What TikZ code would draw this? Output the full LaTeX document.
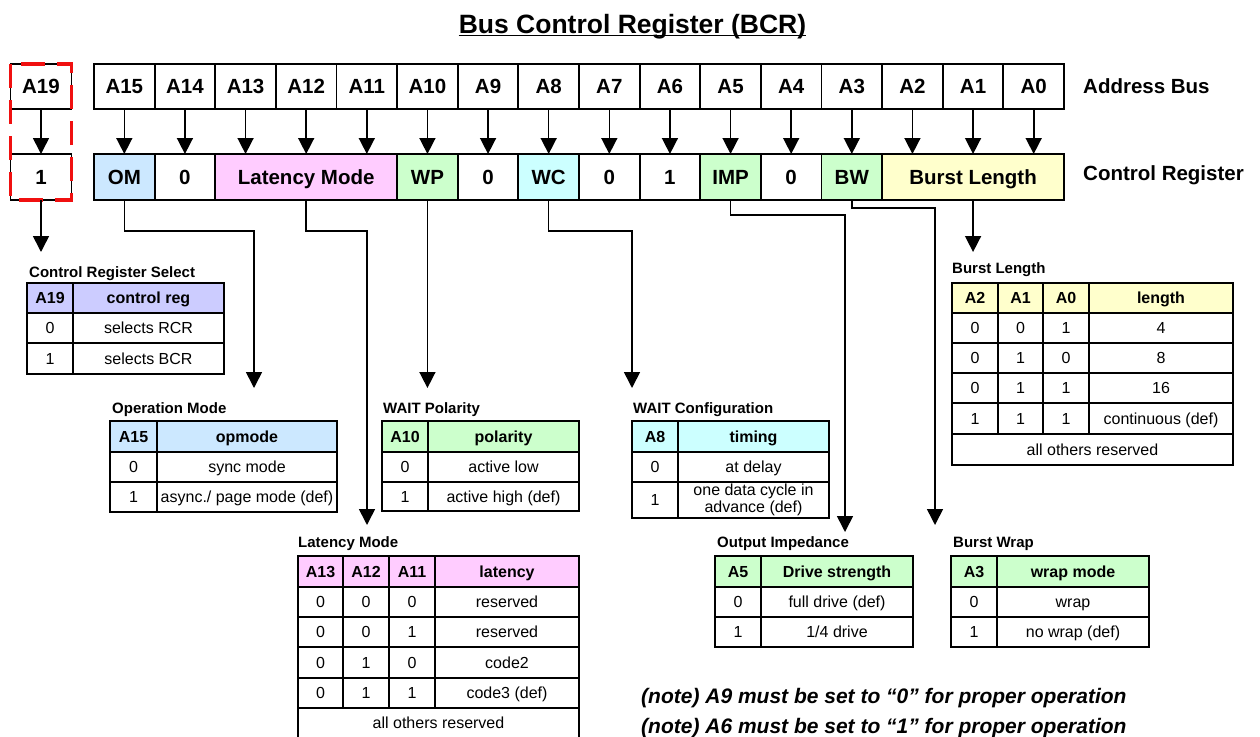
\documentclass[tikz,border=0pt]{standalone}
\usepackage{fontspec}
\setmainfont{Liberation Sans}
\usetikzlibrary{arrows.meta}
\definecolor{cOM}{HTML}{CCE8FF}
\definecolor{cLat}{HTML}{FFCCFF}
\definecolor{cGrn}{HTML}{CCFFCC}
\definecolor{cCyan}{HTML}{CCFFFF}
\definecolor{cYel}{HTML}{FFFFCC}
\definecolor{cCRS}{HTML}{CCCCFF}
\definecolor{cRed}{HTML}{F01010}
\tikzset{
 cell/.style={draw=black, line width=1.8pt, inner sep=0pt, outer sep=0pt, text=black},
 regtext/.style={font=\fontsize{20.5}{24}\selectfont\bfseries, text height=14.7pt, text depth=0pt},
 hdr/.style={font=\fontsize{16}{19}\selectfont\bfseries, text height=11.5pt, text depth=0pt},
 body/.style={font=\fontsize{16}{17.5}\selectfont, text height=11.5pt, text depth=0pt},
 bodyml/.style={font=\fontsize{16}{17.5}\selectfont, align=center},
 ttl/.style={font=\fontsize{15}{18}\selectfont\bfseries, anchor=base west, inner sep=0pt},
 lbl/.style={font=\fontsize{20.5}{24}\selectfont\bfseries, anchor=base west, inner sep=0pt},
 arr/.style={line width=1.6pt, -{Triangle[width=16pt,length=16pt]}},
 note/.style={font=\fontsize{21}{25}\selectfont\bfseries\itshape, anchor=base west, inner sep=0pt},
}
\newcommand\cellnode[8][]{%
 \pgfmathsetmacro\cellW{#5-#3}\pgfmathsetmacro\cellH{#6-#4}%
 \node[cell,#1,fill=#7,minimum width=\cellW pt,minimum height=\cellH pt] (#2) at ({(#3+#5)/2},{(#4+#6)/2}) {#8};}
\begin{document}
\begin{tikzpicture}[x=1pt,y=-1pt]
\useasboundingbox[fill=white] (0,0) rectangle (1260,736);
% title
\node[anchor=base, inner sep=0pt, font=\fontsize{26.5}{30}\selectfont\bfseries] (title) at (632.5,33) {Bus Control Register (BCR)};
\draw[line width=1.8pt] ([yshift=-2.5pt]title.base west) -- ([yshift=-2.5pt]title.base east);
% address bus
\foreach \i in {0,...,15}{
  \pgfmathsetmacro\xa{94+\i*60.625}
  \pgfmathsetmacro\xb{94+(\i+1)*60.625}
  \pgfmathtruncatemacro\n{15-\i}
  \cellnode[regtext]{a\n}{\xa}{64}{\xb}{109}{white}{A\n}
}
% control register
\cellnode[regtext]{om}{94}{154}{154.625}{200}{cOM}{OM}
\cellnode[regtext]{z14}{154.625}{154}{215.25}{200}{white}{0}
\cellnode[regtext]{lat}{215.25}{154}{397.125}{200}{cLat}{Latency Mode}
\cellnode[regtext]{wp}{397.125}{154}{457.75}{200}{cGrn}{WP}
\cellnode[regtext]{z9}{457.75}{154}{518.375}{200}{white}{0}
\cellnode[regtext]{wc}{518.375}{154}{579}{200}{cCyan}{WC}
\cellnode[regtext]{z7}{579}{154}{639.625}{200}{white}{0}
\cellnode[regtext]{o6}{639.625}{154}{700.25}{200}{white}{1}
\cellnode[regtext]{imp}{700.25}{154}{760.875}{200}{cGrn}{IMP}
\cellnode[regtext]{z4}{760.875}{154}{821.5}{200}{white}{0}
\cellnode[regtext]{bw}{821.5}{154}{882.125}{200}{cGrn}{BW}
\cellnode[regtext]{bl}{882.125}{154}{1064}{200}{cYel}{Burst Length}
\foreach \n in {15,...,0}{
  \draw[arr] (a\n.south) -- (a\n.south |- om.north);
}
% A19
\cellnode[regtext]{a19}{10.5}{64}{71.5}{109}{white}{A19}
\cellnode[regtext]{c19}{10.5}{154}{71.5}{200}{white}{1}
\draw[arr] (a19.south) -- (c19.north);
\draw[cRed, line width=3.5pt, dash pattern=on 24pt off 12pt] (a19.north west) rectangle (c19.south east);
% side labels
\node[lbl] (abl) at (1083,93.5) {Address Bus};
\node[lbl] (crl) at (1083,180) {Control Register};
% end coordinates
\coordinate (c19E) at (41,252);
\coordinate (omE) at (254,388);
\coordinate (latE) at (367,525);
\coordinate (wcE) at (632,388);
\coordinate (impE) at (845,532);
\coordinate (bwE) at (935,525);
\coordinate (blE) at (973,252);
\draw[arr] (c19.south) -- (c19.south |- c19E);
\draw[arr] (om.south) -- ++(0,31) -| (omE);
\draw[arr] (lat.south) -- ++(0,31) -| (latE);
\draw[arr] (wp.south) -- (wp.south |- omE);
\draw[arr] (wc.south) -- ++(0,31) -| (wcE);
\draw[arr] (imp.south) -- ++(0,15) -| (impE);
\draw[arr] (bw.south) -- ++(0,8) -| (bwE);
\draw[arr] (bl.south) -- (bl.south |- blE);
% Control Register Select
\node[ttl] (crsT) at (29,277) {Control Register Select};
\cellnode[hdr]{crs11}{27}{283}{73}{313}{cCRS}{A19}
\cellnode[hdr]{crs12}{73}{283}{224}{313}{cCRS}{control reg}
\cellnode[body]{crs21}{27}{313}{73}{343}{white}{0}
\cellnode[body]{crs22}{73}{313}{224}{343}{white}{selects RCR}
\cellnode[body]{crs31}{27}{343}{73}{374}{white}{1}
\cellnode[body]{crs32}{73}{343}{224}{374}{white}{selects BCR}
% Operation Mode
\node[ttl] (omT) at (112,413) {Operation Mode};
\cellnode[hdr]{om11}{110}{421}{157}{452}{cOM}{A15}
\cellnode[hdr]{om12}{157}{421}{337}{452}{cOM}{opmode}
\cellnode[body]{om21}{110}{452}{157}{482}{white}{0}
\cellnode[body]{om22}{157}{452}{337}{482}{white}{sync mode}
\cellnode[body]{om31}{110}{482}{157}{512}{white}{1}
\cellnode[body]{om32}{157}{482}{337}{512}{white}{async./ page mode (def)}
% WAIT Polarity
\node[ttl] (wpT) at (383,413) {WAIT Polarity};
\cellnode[hdr]{wp11}{382}{421}{428}{452}{cGrn}{A10}
\cellnode[hdr]{wp12}{428}{421}{579}{452}{cGrn}{polarity}
\cellnode[body]{wp21}{382}{452}{428}{482}{white}{0}
\cellnode[body]{wp22}{428}{452}{579}{482}{white}{active low}
\cellnode[body]{wp31}{382}{482}{428}{511}{white}{1}
\cellnode[body]{wp32}{428}{482}{579}{511}{white}{active high (def)}
% WAIT Configuration
\node[ttl] (wcT) at (633,413) {WAIT Configuration};
\cellnode[hdr]{wc11}{632}{421}{678}{452}{cCyan}{A8}
\cellnode[hdr]{wc12}{678}{421}{829}{452}{cCyan}{timing}
\cellnode[body]{wc21}{632}{452}{678}{482}{white}{0}
\cellnode[body]{wc22}{678}{452}{829}{482}{white}{at delay}
\cellnode[body]{wc31}{632}{482}{678}{518}{white}{1}
\cellnode[bodyml]{wc32}{678}{482}{829}{518}{white}{one data cycle in\\advance (def)}
% Latency Mode
\node[ttl] (latT) at (298,547) {Latency Mode};
\cellnode[hdr]{lt11}{298}{556}{343}{587}{cLat}{A13}
\cellnode[hdr]{lt12}{343}{556}{389}{587}{cLat}{A12}
\cellnode[hdr]{lt13}{389}{556}{435}{587}{cLat}{A11}
\cellnode[hdr]{lt14}{435}{556}{579}{587}{cLat}{latency}
\cellnode[body]{lt21}{298}{587}{343}{617}{white}{0}
\cellnode[body]{lt22}{343}{587}{389}{617}{white}{0}
\cellnode[body]{lt23}{389}{587}{435}{617}{white}{0}
\cellnode[body]{lt24}{435}{587}{579}{617}{white}{reserved}
\cellnode[body]{lt31}{298}{617}{343}{647}{white}{0}
\cellnode[body]{lt32}{343}{617}{389}{647}{white}{0}
\cellnode[body]{lt33}{389}{617}{435}{647}{white}{1}
\cellnode[body]{lt34}{435}{617}{579}{647}{white}{reserved}
\cellnode[body]{lt41}{298}{647}{343}{678}{white}{0}
\cellnode[body]{lt42}{343}{647}{389}{678}{white}{1}
\cellnode[body]{lt43}{389}{647}{435}{678}{white}{0}
\cellnode[body]{lt44}{435}{647}{579}{678}{white}{code2}
\cellnode[body]{lt51}{298}{678}{343}{708}{white}{0}
\cellnode[body]{lt52}{343}{678}{389}{708}{white}{1}
\cellnode[body]{lt53}{389}{678}{435}{708}{white}{1}
\cellnode[body]{lt54}{435}{678}{579}{708}{white}{code3 (def)}
\cellnode[body]{lt61}{298}{708}{579}{738}{white}{all others reserved}
% Output Impedance
\node[ttl] (oiT) at (717,547) {Output Impedance};
\cellnode[hdr]{oi11}{715}{556}{761}{587}{cGrn}{A5}
\cellnode[hdr]{oi12}{761}{556}{913}{587}{cGrn}{Drive strength}
\cellnode[body]{oi21}{715}{587}{761}{617}{white}{0}
\cellnode[body]{oi22}{761}{587}{913}{617}{white}{full drive (def)}
\cellnode[body]{oi31}{715}{617}{761}{647}{white}{1}
\cellnode[body]{oi32}{761}{617}{913}{647}{white}{1/4 drive}
% Burst Wrap
\node[ttl] (bwT) at (953,547) {Burst Wrap};
\cellnode[hdr]{bw11}{951}{556}{997}{587}{cGrn}{A3}
\cellnode[hdr]{bw12}{997}{556}{1149}{587}{cGrn}{wrap mode}
\cellnode[body]{bw21}{951}{587}{997}{617}{white}{0}
\cellnode[body]{bw22}{997}{587}{1149}{617}{white}{wrap}
\cellnode[body]{bw31}{951}{617}{997}{647}{white}{1}
\cellnode[body]{bw32}{997}{617}{1149}{647}{white}{no wrap (def)}
% Burst Length
\node[ttl] (blT) at (952,273) {Burst Length};
\cellnode[hdr]{bl11}{952}{283}{998}{313}{cYel}{A2}
\cellnode[hdr]{bl12}{998}{283}{1043}{313}{cYel}{A1}
\cellnode[hdr]{bl13}{1043}{283}{1089}{313}{cYel}{A0}
\cellnode[hdr]{bl14}{1089}{283}{1233}{313}{cYel}{length}
\cellnode[body]{bl21}{952}{313}{998}{343}{white}{0}
\cellnode[body]{bl22}{998}{313}{1043}{343}{white}{0}
\cellnode[body]{bl23}{1043}{313}{1089}{343}{white}{1}
\cellnode[body]{bl24}{1089}{313}{1233}{343}{white}{4}
\cellnode[body]{bl31}{952}{343}{998}{373}{white}{0}
\cellnode[body]{bl32}{998}{343}{1043}{373}{white}{1}
\cellnode[body]{bl33}{1043}{343}{1089}{373}{white}{0}
\cellnode[body]{bl34}{1089}{343}{1233}{373}{white}{8}
\cellnode[body]{bl41}{952}{373}{998}{403}{white}{0}
\cellnode[body]{bl42}{998}{373}{1043}{403}{white}{1}
\cellnode[body]{bl43}{1043}{373}{1089}{403}{white}{1}
\cellnode[body]{bl44}{1089}{373}{1233}{403}{white}{16}
\cellnode[body]{bl51}{952}{403}{998}{434}{white}{1}
\cellnode[body]{bl52}{998}{403}{1043}{434}{white}{1}
\cellnode[body]{bl53}{1043}{403}{1089}{434}{white}{1}
\cellnode[body]{bl54}{1089}{403}{1233}{434}{white}{continuous (def)}
\cellnode[body]{bl61}{952}{434}{1233}{465}{white}{all others reserved}
% notes
\node[note] (n1) at (641,703) {(note) A9 must be set to “0” for proper operation};
\node[note] (n2) at (641,733) {(note) A6 must be set to “1” for proper operation};
\end{tikzpicture}
\end{document}
